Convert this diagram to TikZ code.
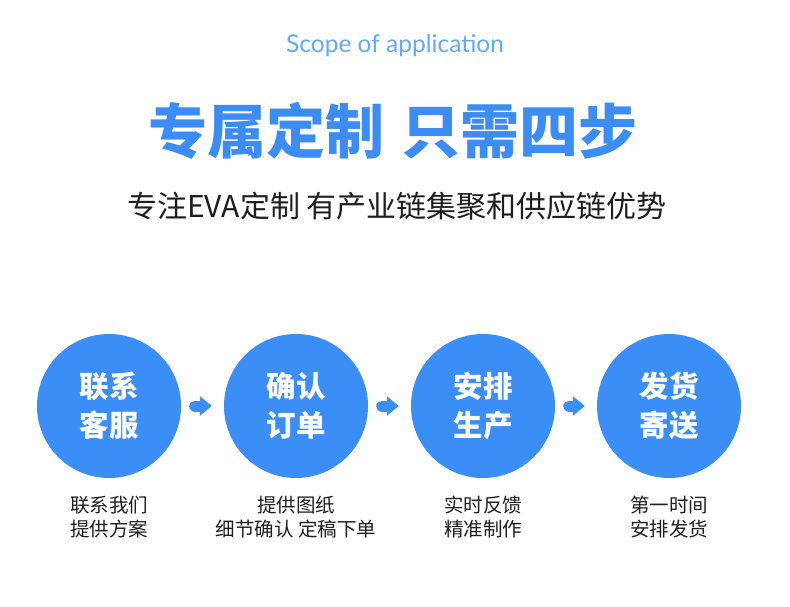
\documentclass[tikz,border=0pt]{standalone}
\usepackage{fontspec}
\setmainfont{Noto Sans CJK SC}
\newfontfamily\latofont{Lato}
\usetikzlibrary{arrows.meta}
\definecolor{mainblue}{HTML}{3A8EF6}
\definecolor{titleblue}{HTML}{3B8DF3}
\definecolor{scopeblue}{HTML}{64A9F4}
\definecolor{textdark}{HTML}{1E1E1E}
\tikzset{
  stepcircle/.style={circle, fill=mainblue, minimum size=144pt, inner sep=0pt,
    text=white, align=center, font=\bfseries\fontsize{29.5}{39}\selectfont},
  steplabel/.style={text=textdark, align=center, inner sep=0pt,
    font=\fontsize{19.5}{24}\selectfont},
  flow/.style={mainblue, line width=11pt, line cap=round,
    -{Triangle[length=12pt,width=19pt]}, shorten <=13.5pt, shorten >=12pt}
}
\begin{document}
\begin{tikzpicture}[x=1pt,y=-1pt]
\useasboundingbox[fill=white] (0,0) rectangle (790,607);
\node[text=scopeblue, font=\latofont\fontsize{24.5}{28}\selectfont, inner sep=0pt] (scope) at (395,46) {Scope of application};
\node[text=titleblue, font=\bfseries\fontsize{59}{62}\selectfont, inner sep=0pt] (title) at (393,131) {专属定制\hspace{0.3em}只需四步};
\node[text=textdark, font=\fontsize{30}{33}\selectfont, inner sep=0pt] (sub) at (397,206) {专注EVA定制 有产业链集聚和供应链优势};

\node[stepcircle] (c1) at (109,406) {联系\\客服};
\node[stepcircle] (c2) at (296,406) {确认\\订单};
\node[stepcircle] (c3) at (483,406) {安排\\生产};
\node[stepcircle] (c4) at (669,406) {发货\\寄送};

\node[steplabel] (l1) at (109,517) {联系我们\\提供方案};
\node[steplabel] (l2) at (296,517) {提供图纸\\细节确认 定稿下单};
\node[steplabel] (l3) at (483,517) {实时反馈\\精准制作};
\node[steplabel] (l4) at (669,517) {第一时间\\安排发货};

\draw[flow] (c1) -- (c2);
\draw[flow] (c2) -- (c3);
\draw[flow] (c3) -- (c4);
\end{tikzpicture}
\end{document}
